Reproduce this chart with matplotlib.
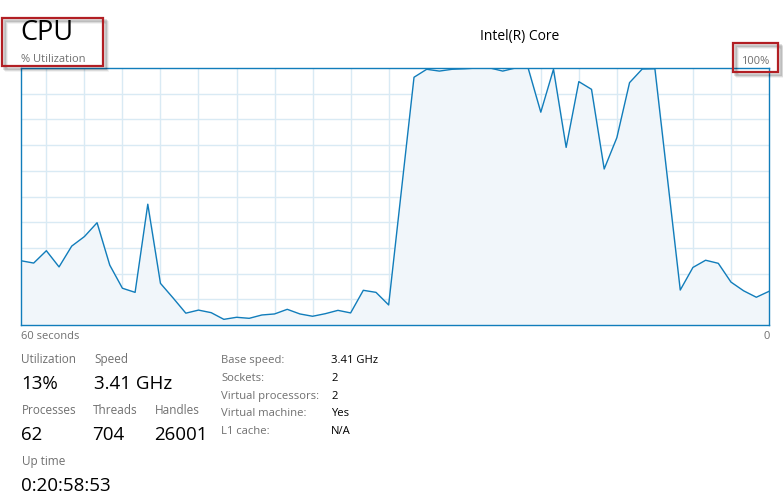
import matplotlib.pyplot as plt
from matplotlib.patches import Rectangle

# CPU usage samples, oldest (60 seconds ago) to newest (0)
cpu_usage = [25.0, 24.1, 28.9, 22.6, 30.7, 34.4, 39.8, 23.3, 14.3, 12.7,
             47.0, 16.2, 10.5, 4.6, 5.8, 4.8, 2.2, 3.0, 2.6, 3.9,
             4.3, 6.1, 4.3, 3.4, 4.4, 5.7, 4.7, 13.5, 12.7, 7.8,
             52.1, 96.4, 99.5, 98.8, 99.5, 99.7, 100, 100, 98.8, 100,
             100, 82.8, 99.5, 69.1, 94.7, 91.7, 60.7, 72.9, 94.3, 99.6,
             99.7, 56.6, 13.6, 22.4, 25.2, 24.0, 16.7, 13.3, 10.8, 13.1]
samples = list(range(len(cpu_usage)))

# Stats shown under the graph
stat_labels = ['Utilization', 'Speed', 'Processes', 'Threads', 'Handles', 'Up time']
stat_values = ['13%', '3.41 GHz', '62', '704', '26001', '0:20:58:53']
info_labels = ['Base speed:', 'Sockets:', 'Virtual processors:', 'Virtual machine:', 'L1 cache:']
info_values = ['3.41 GHz', '2', '2', 'Yes', 'N/A']

W, H = 783, 498
LINE = '#117dbb'
FILL = '#f1f6fa'
GRID = '#d9eaf4'
GRAY = '#707070'
RED = '#b21f24'

plt.rcParams['font.family'] = ['Open Sans', 'DejaVu Sans']

fig = plt.figure(figsize=(W / 100, H / 100), dpi=100)


def px_text(x, y, s, size, color='black', ha='left'):
    # place text by pixel position of its baseline (origin top left)
    fig.text(x / W, 1 - y / H, s, fontsize=size, color=color, ha=ha, va='baseline')


# Graph area
ax = fig.add_axes([21 / W, 1 - 325 / H, 748 / W, 257 / H])
ax.set_xlim(0, len(cpu_usage) - 1)
ax.set_ylim(0, 100)
ax.set_xticks(range(2, 59, 3))
ax.set_yticks(range(10, 100, 10))
ax.grid(True, color=GRID, linewidth=1)
ax.tick_params(length=0, labelbottom=False, labelleft=False)
for spine in ax.spines.values():
    spine.set_color(LINE)
    spine.set_linewidth(1.0)
ax.fill_between(samples, cpu_usage, 0, color=FILL, zorder=2)
ax.plot(samples, cpu_usage, color=LINE, linewidth=1.0, zorder=3)

# Header
px_text(20, 39.5, 'CPU', 19.5)
px_text(21, 62.5, '% Utilization', 8.0, GRAY)
px_text(519.5, 40, 'Intel(R) Core', 10, ha='center')
px_text(769.5, 63.5, '100%', 8.0, GRAY, ha='right')
px_text(21, 338.5, '60 seconds', 8.0, GRAY)
px_text(769.5, 338.5, '0', 8.0, GRAY, ha='right')

# Left stats block
stat_pos = [(21.5, 363), (94.5, 363), (21.5, 414), (92.5, 414), (154.5, 414), (21.5, 465)]
for (x, y), label, value in zip(stat_pos, stat_labels, stat_values):
    px_text(x, y, label, 8.5, GRAY)
    px_text(x, y + 25.5, value, 13.5)

# Right info block
for i, (label, value) in enumerate(zip(info_labels, info_values)):
    y = 363 + i * 17.8
    px_text(221.5, y, label, 8.1, GRAY)
    px_text(331, y, value, 8.1)

# Red highlight boxes with a soft shadow
for x0, y0, x1, y1 in [(2, 18.5, 102.5, 66), (733, 43.5, 777.5, 72.5)]:
    for off, alpha in [(4, 0.06), (3, 0.10), (2, 0.14)]:
        fig.patches.append(Rectangle(((x0 + off) / W, 1 - (y1 + off) / H), (x1 - x0) / W, (y1 - y0) / H,
                                     transform=fig.transFigure, fill=False,
                                     edgecolor='black', alpha=alpha, linewidth=2))
    fig.patches.append(Rectangle((x0 / W, 1 - y1 / H), (x1 - x0) / W, (y1 - y0) / H,
                                 transform=fig.transFigure, fill=False,
                                 edgecolor=RED, linewidth=1.6))

fig.savefig('out.png', dpi=100)
